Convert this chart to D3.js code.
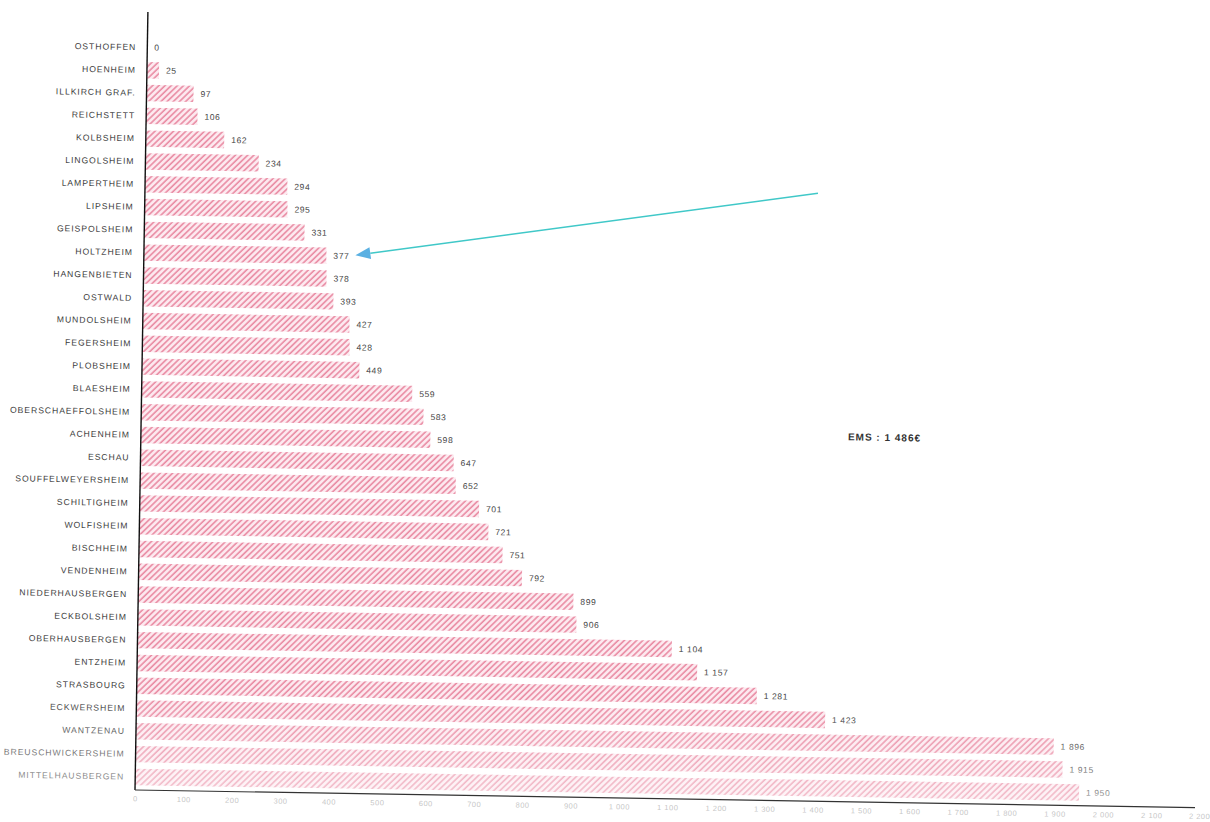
<!DOCTYPE html>
<html lang="fr">
<head>
<meta charset="utf-8">
<script src="https://cdn.jsdelivr.net/npm/d3@7"></script>
<style>
  html, body { margin: 0; padding: 0; background: #ffffff; }
  svg { display: block; }
  text { font-family: "Liberation Sans", Arial, sans-serif; }
</style>
</head>
<body>
<svg id="chart" width="1210" height="822"></svg>
<script>
// Communes, sorted by amount (€)
const communes = [
  "OSTHOFFEN", "HOENHEIM", "ILLKIRCH GRAF.", "REICHSTETT", "KOLBSHEIM",
  "LINGOLSHEIM", "LAMPERTHEIM", "LIPSHEIM", "GEISPOLSHEIM", "HOLTZHEIM",
  "HANGENBIETEN", "OSTWALD", "MUNDOLSHEIM", "FEGERSHEIM", "PLOBSHEIM",
  "BLAESHEIM", "OBERSCHAEFFOLSHEIM", "ACHENHEIM", "ESCHAU", "SOUFFELWEYERSHEIM",
  "SCHILTIGHEIM", "WOLFISHEIM", "BISCHHEIM", "VENDENHEIM", "NIEDERHAUSBERGEN",
  "ECKBOLSHEIM", "OBERHAUSBERGEN", "ENTZHEIM", "STRASBOURG", "ECKWERSHEIM",
  "WANTZENAU", "BREUSCHWICKERSHEIM", "MITTELHAUSBERGEN"
];
const montants = [
  0, 25, 97, 106, 162,
  234, 294, 295, 331, 377,
  378, 393, 427, 428, 449,
  559, 583, 598, 647, 652,
  701, 721, 751, 792, 899,
  906, 1104, 1157, 1281, 1423,
  1896, 1915, 1950
];
const xTicks = [0, 100, 200, 300, 400, 500, 600, 700, 800, 900, 1000,
  1100, 1200, 1300, 1400, 1500, 1600, 1700, 1800, 1900, 2000, 2100, 2200];
const emsLabel = "EMS : 1 486€";
const highlighted = "HOLTZHEIM";

const fr = d3.formatLocale({ decimal: ",", thousands: " ", grouping: [3], currency: ["", "€"] });
const fmt = fr.format(",d");

const svg = d3.select("#chart");
const defs = svg.append("defs");

// diagonal hatching for the bars
const hatch = defs.append("pattern")
  .attr("id", "hatch")
  .attr("patternUnits", "userSpaceOnUse")
  .attr("width", 4.3).attr("height", 4.3)
  .attr("patternTransform", "rotate(45)");
hatch.append("rect").attr("width", 4.3).attr("height", 4.3).attr("fill", "#fdeaf0");
hatch.append("line")
  .attr("x1", 1).attr("y1", 0).attr("x2", 1).attr("y2", 4.3)
  .attr("stroke", "#e98aa2").attr("stroke-width", 1.6);

// fading at the foot of the page
const fade = defs.append("linearGradient")
  .attr("id", "fade").attr("x1", 0).attr("y1", 0).attr("x2", 0).attr("y2", 1);
fade.append("stop").attr("offset", "0").attr("stop-color", "#fff").attr("stop-opacity", 0);
fade.append("stop").attr("offset", "1").attr("stop-color", "#fff").attr("stop-opacity", 0.6);

const originX = 135, baseY = 790, axisTop = 12;

// the whole sheet sits slightly askew
const g = svg.append("g").attr("transform", `rotate(0.95, ${originX}, ${baseY})`);

const x = d3.scaleLinear().domain([0, 2200]).range([originX, originX + 1065]);
const y = d3.scaleBand().domain(communes).range([35.3, 789]).paddingInner(0.28).paddingOuter(0.17);

const data = communes.map((c, i) => ({ commune: c, value: montants[i] }));

// bars
g.append("g").selectAll("rect")
  .data(data)
  .join("rect")
  .attr("x", x(0))
  .attr("y", d => y(d.commune))
  .attr("width", d => x(d.value) - x(0))
  .attr("height", y.bandwidth())
  .attr("fill", "url(#hatch)");

// value labels
g.append("g").selectAll("text")
  .data(data)
  .join("text")
  .attr("x", d => x(d.value) + 7)
  .attr("y", d => y(d.commune) + y.bandwidth() / 2)
  .attr("dy", "0.35em")
  .attr("font-size", 8.5)
  .attr("letter-spacing", 0.6)
  .attr("fill", "#444")
  .text(d => fmt(d.value));

// category axis
const yAxis = g.append("g")
  .attr("transform", `translate(${originX},0)`)
  .call(d3.axisLeft(y).tickSize(0).tickPadding(11));
yAxis.select(".domain").remove();
yAxis.selectAll("text")
  .attr("font-family", "'Liberation Sans', Arial, sans-serif")
  .attr("font-size", 8.6)
  .attr("letter-spacing", 0.95)
  .attr("fill", "#3c3c3c");

// value axis
const xAxis = g.append("g")
  .attr("transform", `translate(0,${baseY})`)
  .call(d3.axisBottom(x).tickValues(xTicks).tickFormat(fmt).tickSize(0).tickPadding(6));
xAxis.select(".domain").remove();
xAxis.selectAll("text")
  .attr("font-family", "'Liberation Sans', Arial, sans-serif")
  .attr("font-size", 7.5)
  .attr("letter-spacing", 0.5)
  .attr("fill", "#8a8a8a")
  .attr("text-anchor", d => d === 2200 ? "end" : "middle")
  .attr("dx", d => d === 2200 ? 10 : 0);

// faded lower part of the sheet
g.append("rect")
  .attr("x", 0).attr("y", 690)
  .attr("width", 1210).attr("height", 130)
  .attr("fill", "url(#fade)");

// axis lines
g.append("line")
  .attr("x1", originX).attr("x2", originX)
  .attr("y1", axisTop).attr("y2", baseY)
  .attr("stroke", "#111").attr("stroke-width", 1.4);
g.append("line")
  .attr("x1", originX).attr("x2", x(2190))
  .attr("y1", baseY).attr("y2", baseY)
  .attr("stroke", "#333").attr("stroke-width", 1.2);

// annotation arrow pointing at the highlighted commune
const hv = montants[communes.indexOf(highlighted)];
const tip = [x(hv) + 29, y(highlighted) + y.bandwidth() / 2 - 1];
const tail = [808, 182];
const dxA = tail[0] - tip[0], dyA = tail[1] - tip[1];
const len = Math.hypot(dxA, dyA);
const ux = dxA / len, uy = dyA / len;
const headLen = 15, headHalf = 6;
const base = [tip[0] + ux * headLen, tip[1] + uy * headLen];
g.append("line")
  .attr("x1", tail[0]).attr("y1", tail[1])
  .attr("x2", base[0]).attr("y2", base[1])
  .attr("stroke", "#40c8c8").attr("stroke-width", 1.5);
g.append("path")
  .attr("d", d3.line()([
    tip,
    [base[0] - uy * headHalf, base[1] + ux * headHalf],
    [base[0] + uy * headHalf, base[1] - ux * headHalf]
  ]) + "Z")
  .attr("fill", "#5ab0e2");

// overall EMS figure
g.append("text")
  .attr("x", 842).attr("y", 425)
  .attr("dy", "0.35em")
  .attr("font-size", 10)
  .attr("font-weight", "bold")
  .attr("letter-spacing", 1)
  .attr("fill", "#333")
  .text(emsLabel);
</script>
</body>
</html>
